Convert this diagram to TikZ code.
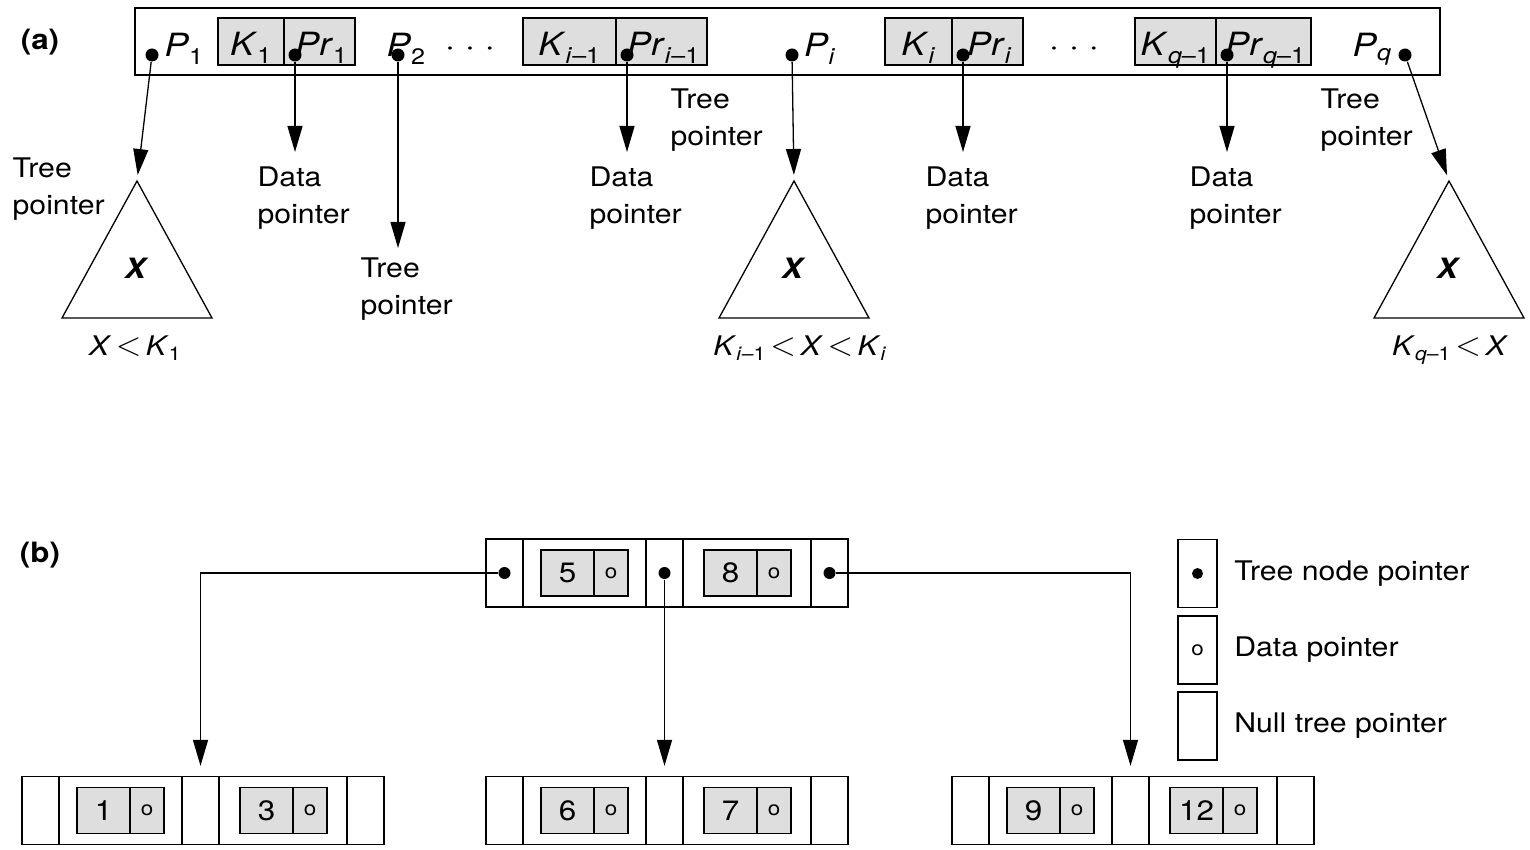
\documentclass[tikz,border=0pt]{standalone}
\usepackage{fontspec}
\usepackage{graphicx}
\setmainfont{TeX Gyre Heros}[FakeStretch=1.12]
\usetikzlibrary{positioning,arrows.meta,calc}
\newcommand{\idx}[2]{\textit{#1}\textsubscript{#2}}
\newcommand{\lt}{\,\scalebox{1.35}{$<$}\,}

\begin{document}
\begin{tikzpicture}[x=1pt,y=-1pt,line width=1.3pt,
  lab/.style={font=\fontsize{27}{37}\selectfont,align=left,inner sep=0pt,anchor=north west},
  rec/.style={font=\fontsize{32}{36}\selectfont,inner sep=0pt},
  tag/.style={font=\fontsize{28}{30}\selectfont\bfseries,inner sep=0pt},
  keybox/.style={draw,fill=black!13,minimum height=47pt,inner sep=0pt,text height=29pt,text depth=0pt,font=\fontsize{32}{36}\selectfont},
  cell/.style={draw,minimum height=68pt,inner sep=0pt},
  keyb/.style={draw,fill=black!13,minimum height=46pt,minimum width=53pt,inner sep=0pt,font=\fontsize{28}{32}\selectfont},
  obox/.style={draw,fill=black!13,minimum height=46pt,minimum width=34pt,inner sep=0pt,font=\fontsize{20}{24}\selectfont},
  dot/.style={circle,fill=black,inner sep=0pt,minimum size=13pt},
  ptr/.style={-{Triangle[length=26pt,width=15pt]}}]
\useasboundingbox (0,0) rectangle (1530,850);

% ---------- (a) one node of a B-tree of order q ----------
\node[tag] (tagA) at (40,42) {(a)};
\node[draw,minimum width=1305pt,minimum height=67pt,inner sep=0pt] (recA) at (787.5,41.5) {};

% key / data pointer pairs: name/left/split/right/key/pointer
\foreach \n/\xa/\xb/\xc/\kt/\pl in {1/218/284/355/{\idx{K}{1}}/{\idx{Pr}{1}},
    im/523/616/707/{\idx{K}{\textit{i}\textendash1}}/{\idx{Pr}{\textit{i}\textendash1}},
    i/885/952/1023/{\idx{K}{\textit{i}}}/{\idx{Pr}{\textit{i}}},
    qm/1135/1216/1311/{\idx{K}{\textit{q}\textendash1}}/{\idx{Pr}{\textit{q}\textendash1}}}{
  \node[keybox,minimum width=\xb-\xa] (k\n) at ({(\xa+\xb)/2},41.5) {\kt};
  \node[keybox,minimum width=\xc-\xb] (pr\n) at ({(\xb+\xc)/2},41.5) {\hspace{4pt}\pl};
  \node[dot] (dp\n) at (\xb+11,55) {};
  \coordinate (de\n) at (\xb+11,152);
  \draw[ptr] (dp\n) -- (de\n);
  \node[lab] (dl\n) at (\xb-27,166) {Data\\pointer};
}
\node[rec,anchor=base] (dotsA) at (470,57) {· · ·};
\node[rec,anchor=base] (dotsB) at (1074,57) {· · ·};

% tree pointers P_j
\foreach \n/\x/\tx/\lbl in {1/152/184/{\idx{P}{1}}, 2/398/406/{\idx{P}{2}},
    i/792/820/{\idx{P}{\textit{i}}}, q/1405/1372/{\idx{P}{\textit{q}}}}{
  \node[rec,anchor=base] (pl\n) at (\tx,57) {\lbl};
  \node[dot] (p\n) at (\x,55) {};
}

% subtrees
\foreach \n/\x in {1/137,i/794,q/1449}{
  \coordinate (t\n) at (\x,181);
  \draw[line join=miter] (t\n) -- ++(75,137) -- ++(-150,0) -- cycle;
  \node[font=\fontsize{28}{30}\selectfont\bfseries\itshape,inner sep=0pt] (x\n) at (\x-2,268) {X};
}
\node[lab,anchor=north] (r1) at (135,335) {\textit{X}\lt\idx{K}{1}};
\node[lab,anchor=north] (ri) at (800,335) {\idx{K}{\textit{i}\textendash1}\lt\textit{X}\lt\idx{K}{\textit{i}}};
\node[lab,anchor=north] (rq) at (1450,335) {\idx{K}{\textit{q}\textendash1}\lt\textit{X}};

\coordinate (te2) at (398,248);
\draw[ptr,shorten >=6pt] (p1) -- (t1);
\draw[ptr] (p2) -- (te2);
\draw[ptr,shorten >=6pt] (pi) -- (ti);
\draw[ptr,shorten >=6pt] (pq) -- (tq);

\node[lab] (tl1) at (12,157) {Tree\\pointer};
\node[lab] (tl2) at (360,257) {Tree\\pointer};
\node[lab] (tli) at (670,88) {Tree\\pointer};
\node[lab] (tlq) at (1320,88) {Tree\\pointer};

% ---------- (b) a B-tree of order 3 ----------
\node[tag] (tagB) at (40,555) {(b)};

% name/left/centre y/key 1/key 2
\foreach \nm/\x/\y/\ka/\kb in {root/486/573/5/8, la/22/810.5/1/3, lb/486/810.5/6/7, lc/952/810.5/9/12}{
  \node[cell,minimum width=37pt] (\nm-p1) at (\x+18.5,\y) {};
  \node[cell,minimum width=123pt] (\nm-s1) at (\x+98.5,\y) {};
  \node[cell,minimum width=37pt] (\nm-p2) at (\x+178.5,\y) {};
  \node[cell,minimum width=128pt] (\nm-s2) at (\x+261,\y) {};
  \node[cell,minimum width=37pt] (\nm-p3) at (\x+343.5,\y) {};
  \node[keyb] (\nm-k1) at (\x+81.5,\y) {\ka};
  \node[obox] (\nm-o1) at (\x+125,\y) {o};
  \node[keyb] (\nm-k2) at (\x+244.5,\y) {\kb};
  \node[obox] (\nm-o2) at (\x+288,\y) {o};
}
\foreach \k in {1,2,3}{\node[dot,minimum size=12pt] (root-d\k) at (root-p\k) {};}

\draw[ptr,shorten >=10pt] (root-d1) -| (la-p2.north);
\draw[ptr,shorten >=10pt] (root-d2) -- (lb-p2.north);
\draw[ptr,shorten >=10pt] (root-d3) -| (lc-p2.north);

% legend
\node[cell,minimum width=39pt] (lg1) at (1197.5,573.5) {};
\node[dot,minimum size=11pt] (lgd) at (lg1) {};
\node[cell,minimum width=39pt] (lg2) at (1197.5,650) {};
\node[font=\fontsize{20}{24}\selectfont,inner sep=0pt] (lgo) at (lg2) {o};
\node[cell,minimum width=39pt] (lg3) at (1197.5,726) {};
\node[lab,anchor=west,right=16pt of lg1] (lt1) {Tree node pointer};
\node[lab,anchor=west,right=16pt of lg2] (lt2) {Data pointer};
\node[lab,anchor=west,right=16pt of lg3] (lt3) {Null tree pointer};
\end{tikzpicture}
\end{document}
